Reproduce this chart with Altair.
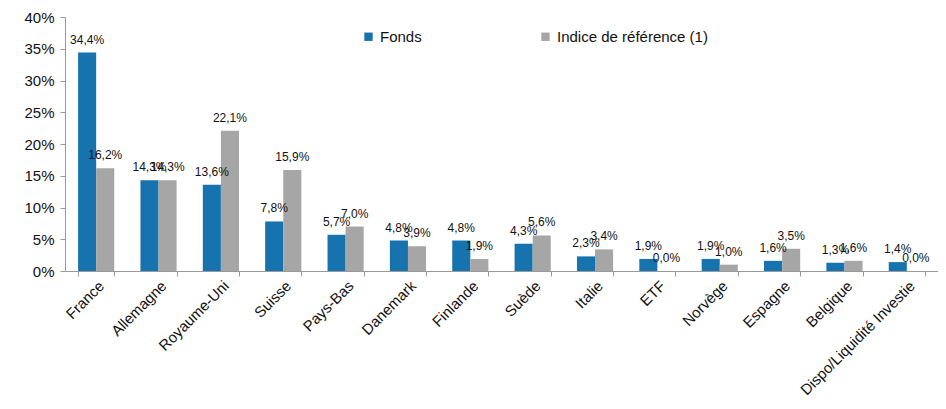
import altair as alt
import pandas as pd

pays = ["France", "Allemagne", "Royaume-Uni", "Suisse", "Pays-Bas", "Danemark",
        "Finlande", "Suède", "Italie", "ETF", "Norvège", "Espagne", "Belgique",
        "Dispo/Liquidité Investie"]
fonds = [34.4, 14.3, 13.6, 7.8, 5.7, 4.8, 4.8, 4.3, 2.3, 1.9, 1.9, 1.6, 1.3, 1.4]
indice = [16.2, 14.3, 22.1, 15.9, 7.0, 3.9, 1.9, 5.6, 3.4, 0.0, 1.0, 3.5, 1.6, 0.0]
series = ["Fonds", "Indice de référence (1)"]
colors = ["#1673ae", "#a6a6a6"]

rows = []
for p, f, i in zip(pays, fonds, indice):
    rows.append({"pays": p, "serie": series[0], "valeur": f / 100})
    rows.append({"pays": p, "serie": series[1], "valeur": i / 100})
df = pd.DataFrame(rows)

FONT = "Liberation Sans"

x = alt.X("pays:N", sort=pays, title=None,
          scale=alt.Scale(paddingInner=0.42, paddingOuter=0.21),
          axis=alt.Axis(labelAngle=-45, labelAlign="right", labelBaseline="top",
                        labelFontSize=15, labelFont=FONT, labelColor="#111",
                        labelPadding=2, tickBand="extent", ticks=True, tickSize=5,
                        tickColor="#999", domainColor="#999", labelLimit=300,
                        labelOverlap=False))
xo = alt.XOffset("serie:N", sort=series)
y = alt.Y("valeur:Q", title=None,
          scale=alt.Scale(domain=[0, 0.4], nice=False),
          axis=alt.Axis(tickCount=8, format=".0%",
                        labelFontSize=15, labelFont=FONT, labelColor="#111",
                        grid=False, tickSize=5, tickColor="#999", domainColor="#999",
                        labelPadding=6, labelOverlap=False))

bars = alt.Chart(df).mark_bar().encode(
    x=x, xOffset=xo, y=y,
    color=alt.Color("serie:N", sort=series,
                    scale=alt.Scale(domain=series, range=colors),
                    legend=alt.Legend(title=None, orient="none", direction="horizontal",
                                      legendX=296, legendY=12, symbolType="square",
                                      symbolSize=70, labelFontSize=15, labelFont=FONT,
                                      labelColor="#111", columnPadding=116,
                                      symbolStrokeWidth=0, labelOffset=4)),
)

labels = alt.Chart(df).transform_calculate(
    lbl="replace(format(datum.valeur * 100, '.1f'), '.', ',') + '%'"
).mark_text(baseline="bottom", dy=-6, fontSize=12, font=FONT, color="#111").encode(
    x=x, xOffset=xo, y=y, text="lbl:N"
)

chart = alt.layer(bars, labels).properties(
    width=873, height=254,
    autosize=alt.AutoSizeParams(type="none"),
    padding={"left": 57, "top": 9, "right": 0, "bottom": 130},
).configure_view(stroke=None)

chart.save("out.html", embed_options={"renderer": "svg", "actions": False})
